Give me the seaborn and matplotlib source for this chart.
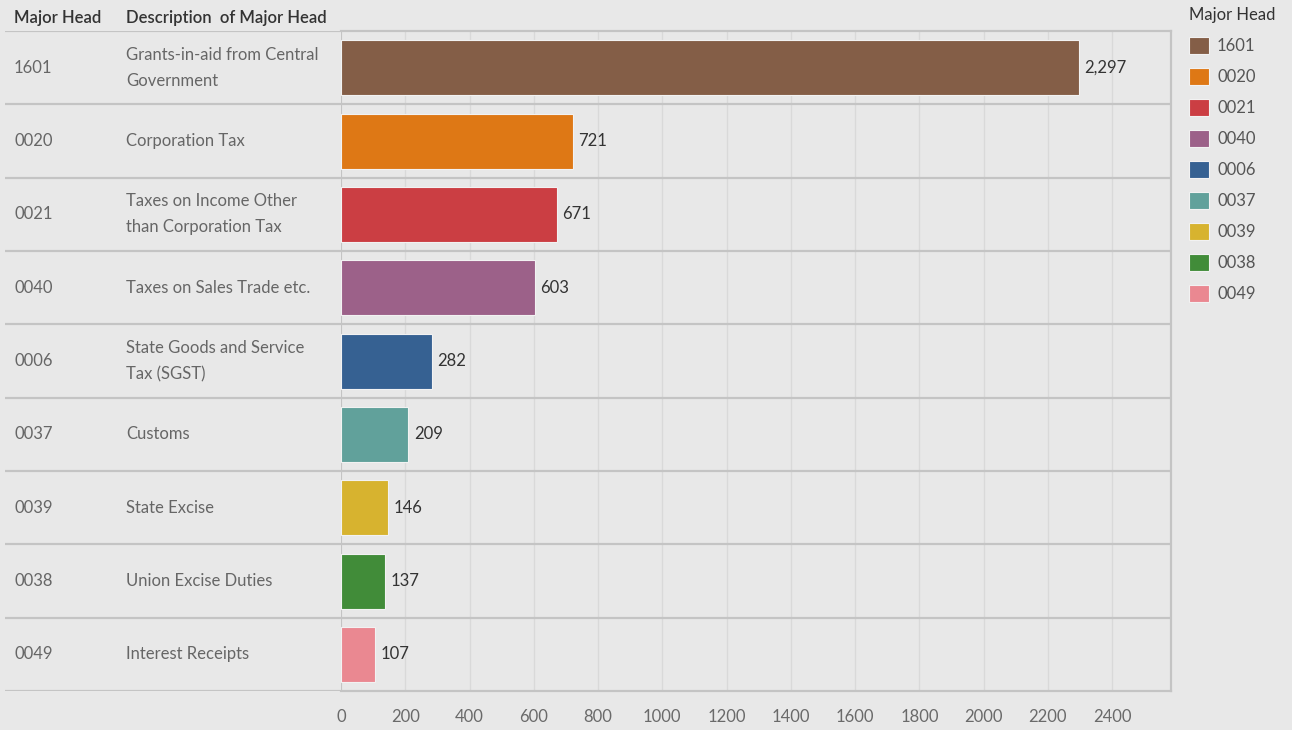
import matplotlib
import matplotlib.pyplot as plt
import seaborn as sns
from matplotlib.patches import Patch

matplotlib.use("Agg")

# data
codes = ["1601", "0020", "0021", "0040", "0006", "0037", "0039", "0038", "0049"]
descriptions = [
    "Grants-in-aid from Central\nGovernment",
    "Corporation Tax",
    "Taxes on Income Other\nthan Corporation Tax",
    "Taxes on Sales Trade etc.",
    "State Goods and Service\nTax (SGST)",
    "Customs",
    "State Excise",
    "Union Excise Duties",
    "Interest Receipts",
]
values = [2297, 721, 671, 603, 282, 209, 146, 137, 107]
colors = ["#845e47", "#de7815", "#cb3e43", "#9c6189", "#366192",
          "#61a19b", "#d7b32f", "#418c39", "#ea8891"]
x_ticks = list(range(0, 2401, 200))

BG = "#e8e8e8"
LINE = "#c4c4c4"
GRID = "#d9d9d9"

sns.set_style("white", {"axes.facecolor": BG, "figure.facecolor": BG})
plt.rcParams["font.family"] = ["Lato", "DejaVu Sans"]

W, H = 1292, 730
fig = plt.figure(figsize=(W / 100, H / 100), dpi=100)
fig.patch.set_facecolor(BG)

top, bottom = 31, 691
ax = fig.add_axes([341 / W, 1 - bottom / H, (1171 - 341) / W, (bottom - top) / H])
tab = fig.add_axes([5 / W, 1 - bottom / H, (341 - 5) / W, (bottom - top) / H])

palette = dict(zip(codes, colors))
sns.barplot(x=values, y=codes, hue=codes, palette=palette, orient="h",
            width=0.75, legend=False, saturation=1, edgecolor="#f2f2f2",
            linewidth=0.8, ax=ax, zorder=3)

ax.set_xlim(0, 2583)
ax.set_ylim(len(codes) - 0.5, -0.5)
ax.set_xticks(x_ticks)
ax.set_xticklabels([str(t) for t in x_ticks])
ax.set_yticks([])
ax.set_xlabel("")
ax.set_ylabel("")
ax.tick_params(axis="x", length=7, width=1, color=GRID, labelcolor="#6a6a6a",
               labelsize=12, pad=6)
for t in x_ticks:
    ax.axvline(t, color=GRID, lw=1, zorder=1)
for i in range(len(codes) - 1):
    ax.axhline(i + 0.5, color=LINE, lw=1.6, zorder=2)
for side in ["left", "right", "top", "bottom"]:
    ax.spines[side].set_color(LINE)
    ax.spines[side].set_linewidth(1.6)
ax.spines["left"].set_linewidth(1.4)

for cont in ax.containers:
    ax.bar_label(cont, labels=[f"{v:,.0f}" for v in cont.datavalues],
                 padding=4, fontsize=12, color="#333333")

# table part on the left
tab.set_facecolor(BG)
tab.set_xlim(0, 1)
tab.set_ylim(len(codes) - 0.5, -0.5)
tab.set_xticks([])
tab.set_yticks([])
for side in ["left", "right", "top", "bottom"]:
    tab.spines[side].set_visible(False)
for i in range(len(codes) + 1):
    tab.axhline(i - 0.5, color=LINE, lw=1.6)
for i, (c, d) in enumerate(zip(codes, descriptions)):
    tab.text(0.027, i, c, va="center", ha="left", fontsize=12, color="#666666")
    tab.text(0.36, i, d, va="center", ha="left", fontsize=12, color="#666666",
             linespacing=1.75)

fig.text(14 / W, 1 - 18 / H, "Major Head", va="center", ha="left",
         fontsize=12, color="#333333", fontweight="semibold")
fig.text(126 / W, 1 - 18 / H, "Description  of Major Head", va="center",
         ha="left", fontsize=12, color="#333333", fontweight="semibold")

handles = [Patch(facecolor=col, edgecolor="#f2f2f2", lw=0.8) for col in colors]
leg = fig.legend(handles, codes, loc="upper left",
                 bbox_to_anchor=(1182 / W, 1.0), frameon=False,
                 title="Major Head", alignment="left", fontsize=12,
                 title_fontsize=12, handlelength=1.2, handleheight=1.2,
                 handletextpad=0.5, labelspacing=0.83, borderaxespad=0)
leg.get_title().set_color("#333333")
for txt in leg.get_texts():
    txt.set_color("#555555")

fig.savefig("out.png", dpi=100, facecolor=BG)
